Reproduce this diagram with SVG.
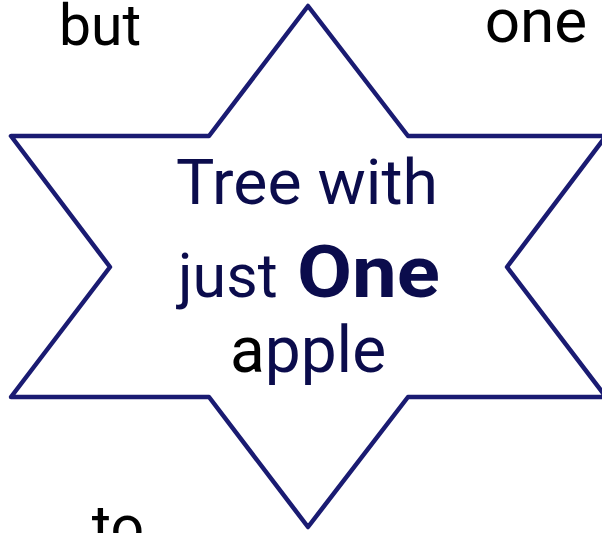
<svg xmlns="http://www.w3.org/2000/svg" width="602" height="533" viewBox="0 0 602 533">
<style>
.star{fill:#ffffff;stroke:#1a1b72;stroke-width:4.5;stroke-linejoin:round}
.lbl{font-family:Roboto,"Liberation Sans",sans-serif;fill:#000000}
.ctr{font-family:Roboto,"Liberation Sans",sans-serif;fill:#0b0c4c}
</style>
<rect width="602" height="533" fill="#ffffff"/>
<g id="labels">
<text class="lbl" x="100" y="45" font-size="57" text-anchor="middle">but</text>
<text class="lbl" x="536" y="42" font-size="62" text-anchor="middle">one</text>
<text class="lbl" x="118" y="547" font-size="59" text-anchor="middle">to</text>
</g>
<g id="star-node">
<polygon class="star" points="308,6 408,136 606,136 507,267 606,397 408,397 308,527 209,397 11,397 110,267 11,136 209,136"/>
<text class="ctr" x="176" y="204" font-size="63" textLength="262" lengthAdjust="spacingAndGlyphs">Tree with</text>
<text class="ctr" x="178" y="297" font-size="61">just</text>
<text class="ctr" x="297" y="297" font-size="72" font-weight="bold" textLength="143" lengthAdjust="spacingAndGlyphs">One</text>
<text class="ctr" x="308" y="372" font-size="64" text-anchor="middle"><tspan fill="#000000">a</tspan>pple</text>
</g>
</svg>
